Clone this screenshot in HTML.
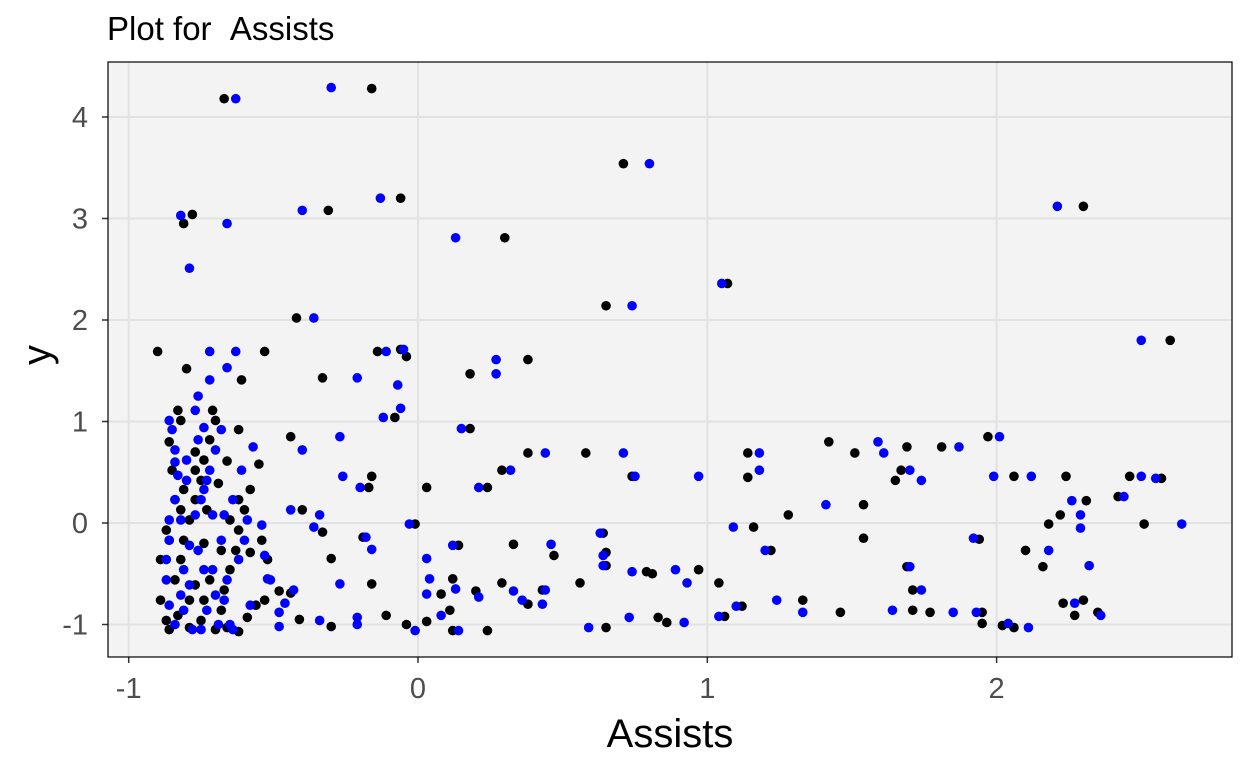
<!DOCTYPE html>
<html><head><meta charset="utf-8"><style>
body{margin:0;background:#fff;width:1248px;height:768px;overflow:hidden}
svg{font-family:"Liberation Sans",sans-serif}
</style></head><body>
<svg id="chart" width="1248" height="768" viewBox="0 0 1248 768">
<text x="107" y="40" font-size="33" fill="#000" xml:space="preserve">Plot for &#160;Assists</text>
<text x="670" y="747" font-size="40" text-anchor="middle" fill="#000">Assists</text>
<text x="0" y="0" font-size="40" text-anchor="middle" fill="#000" transform="translate(50,355) rotate(-90)">y</text>
</svg>
<script>
const xTicks=[-1,0,1,2];
const yTicks=[-1,0,1,2,3,4];
const blackX=[-0.67,-0.16,0.71,2.30,-0.78,-0.81,-0.31,-0.06,0.30,0.65,1.07,2.60,-0.42,-0.90,-0.53,-0.14,-0.06,-0.04,0.38,0.18,-0.33,-0.80,-0.61,-0.08,-0.83,-0.44,0.38,0.58,0.18,1.42,1.51,1.69,1.81,1.97,1.14,-0.86,-0.55,-0.16,0.29,0.74,1.14,1.67,1.65,2.06,2.24,2.46,2.57,0.03,0.24,-0.17,-0.40,1.28,1.54,2.31,2.42,2.22,2.51,2.18,1.16,0.64,-0.01,-0.19,-0.33,1.54,1.94,0.33,1.22,0.65,2.10,-0.30,0.47,0.14,0.65,0.79,0.81,0.97,1.69,2.16,0.56,1.04,-0.16,0.12,0.29,0.43,1.71,0.38,0.08,0.20,1.06,1.12,1.33,1.46,1.71,1.77,1.95,2.23,2.27,2.35,2.30,0.11,0.03,0.12,0.24,0.65,0.83,0.86,-0.11,-0.04,-0.30,1.95,2.02,2.06,-0.41,-0.44,-0.48,-0.53,-0.56,
-0.89,-0.87,-0.86,-0.84,-0.82,-0.81,-0.79,-0.77,-0.75,-0.74,-0.72,-0.70,-0.84,-0.81,-0.77,-0.74,-0.70,-0.68,-0.67,-0.65,-0.63,-0.62,-0.60,-0.58,-0.89,-0.86,-0.82,-0.79,-0.75,-0.72,-0.68,-0.65,-0.62,-0.71,-0.82,-0.77,-0.74,-0.66,-0.62,-0.59,-0.79,-0.54,-0.52,-0.58,-0.85,-0.87,-0.83,-0.77,-0.73,-0.69,-0.66,-0.62];
const blackY=[4.18,4.28,3.54,3.12,3.04,2.95,3.08,3.20,2.81,2.14,2.36,1.80,2.02,1.69,1.69,1.69,1.71,1.64,1.61,1.47,1.43,1.52,1.41,1.04,1.11,0.85,0.69,0.69,0.93,0.80,0.69,0.75,0.75,0.85,0.69,0.80,0.58,0.46,0.52,0.46,0.45,0.52,0.42,0.46,0.46,0.46,0.44,0.35,0.35,0.35,0.13,0.08,0.18,0.22,0.26,0.08,-0.01,-0.01,-0.04,-0.10,-0.01,-0.14,-0.09,-0.15,-0.16,-0.21,-0.27,-0.29,-0.27,-0.35,-0.32,-0.22,-0.42,-0.48,-0.50,-0.46,-0.43,-0.43,-0.59,-0.59,-0.60,-0.55,-0.59,-0.66,-0.66,-0.80,-0.70,-0.67,-0.92,-0.82,-0.76,-0.88,-0.86,-0.88,-0.88,-0.79,-0.91,-0.88,-0.76,-0.86,-0.97,-1.06,-1.06,-1.03,-0.93,-0.98,-0.91,-1.00,-1.02,-0.99,-1.01,-1.03,-0.95,-0.69,-0.67,-0.76,-0.81,
-0.76,-0.96,-1.05,-0.56,-0.36,-0.17,0.03,0.23,0.42,0.62,0.82,1.01,0.23,0.33,0.52,-0.76,-1.05,-0.86,-0.66,-0.46,-0.27,-0.07,0.13,0.33,-0.36,-0.17,0.13,-0.76,-0.96,-0.56,-0.27,0.03,0.23,1.11,1.01,0.70,-0.20,-1.03,-1.07,-0.93,-1.03,-0.17,-0.36,-0.29,0.52,-0.07,-0.91,-0.61,0.13,0.39,0.61,0.92];
const blueX=[-0.63,-0.30,0.80,2.21,-0.82,-0.79,-0.66,-0.40,-0.13,0.13,0.74,1.05,2.50,-0.36,-0.72,-0.63,-0.11,-0.05,0.27,0.27,-0.21,-0.72,-0.66,-0.12,-0.06,-0.07,-0.86,-0.27,-0.40,0.15,0.44,0.71,1.59,1.61,1.87,2.01,1.18,1.18,-0.84,-0.57,-0.26,0.32,0.75,0.97,1.70,1.74,1.99,2.12,2.50,2.55,-0.20,0.21,-0.44,-0.34,1.41,2.26,2.44,2.29,2.64,2.29,1.09,0.63,-0.03,-0.18,-0.36,1.92,0.46,1.20,2.18,-0.16,0.03,0.64,0.12,2.32,0.89,0.93,0.74,1.70,0.64,-0.27,0.13,0.04,0.21,0.36,0.44,1.74,0.43,0.03,0.33,1.04,1.10,1.24,1.33,1.64,1.85,1.93,2.27,2.36,0.08,0.14,-0.01,0.59,0.73,0.92,-0.21,-0.21,-0.34,2.04,2.11,-0.48,-0.48,-0.52,-0.43,-0.46,-0.58,
-0.87,-0.86,-0.84,-0.82,-0.81,-0.79,-0.77,-0.75,-0.74,-0.72,-0.70,-0.68,-0.83,-0.80,-0.76,-0.73,-0.69,-0.67,-0.66,-0.64,-0.62,-0.60,-0.59,-0.85,-0.86,-0.82,-0.78,-0.75,-0.71,-0.68,-0.64,-0.61,-0.77,-0.76,-0.74,-0.71,-0.65,-0.73,-0.80,-0.84,-0.86,-0.87,-0.76,-0.74,-0.70,-0.67,-0.79,-0.81,-0.84,-0.53,-0.54,-0.51];
const blueY=[4.18,4.29,3.54,3.12,3.03,2.51,2.95,3.08,3.20,2.81,2.14,2.36,1.80,2.02,1.69,1.69,1.69,1.71,1.61,1.47,1.43,1.41,1.53,1.04,1.13,1.36,1.01,0.85,0.72,0.93,0.69,0.69,0.80,0.69,0.75,0.85,0.69,0.52,0.60,0.75,0.46,0.52,0.46,0.46,0.52,0.42,0.46,0.46,0.46,0.44,0.35,0.35,0.13,0.08,0.18,0.22,0.26,0.08,-0.01,-0.05,-0.04,-0.10,-0.01,-0.14,-0.04,-0.15,-0.21,-0.27,-0.27,-0.26,-0.35,-0.32,-0.22,-0.42,-0.46,-0.59,-0.48,-0.43,-0.42,-0.60,-0.65,-0.55,-0.73,-0.76,-0.66,-0.66,-0.80,-0.70,-0.67,-0.92,-0.82,-0.76,-0.88,-0.86,-0.88,-0.88,-0.79,-0.91,-0.91,-1.06,-1.06,-1.03,-0.93,-0.98,-1.00,-0.93,-0.96,-0.99,-1.03,-1.02,-0.88,-0.55,-0.66,-0.79,-0.81,
-0.56,-0.81,-1.00,-0.71,-0.46,-0.22,0.08,0.23,0.33,0.52,0.72,0.92,0.47,0.62,0.82,-0.86,-1.00,-0.76,-0.56,-1.05,-0.36,-0.17,0.03,0.92,-0.17,0.03,-1.05,-1.05,-0.46,-0.17,0.23,0.52,1.11,1.25,0.94,0.08,-1.00,0.42,0.42,0.23,0.03,-0.36,-0.27,-0.46,-0.71,0.08,-0.61,-0.86,0.72,-0.32,-0.02,-0.56];

const NS='http://www.w3.org/2000/svg';
const svg=document.getElementById('chart');
const L=108,R=1232,T=62,B=657;
const sx=v=>418+v*289.3;
const sy=v=>523-v*101.5;
function mk(tag,attrs,parent){const e=document.createElementNS(NS,tag);for(const k in attrs)e.setAttribute(k,attrs[k]);(parent||svg).appendChild(e);return e;}
const panel=mk('rect',{x:L,y:T,width:R-L,height:B-T,fill:'#f3f3f3'});


xTicks.forEach(t=>{
  const g=mk('line',{x1:sx(t),x2:sx(t),y1:T,y2:B,stroke:'#e2e2e2','stroke-width':2});
  
  
  const tk=mk('line',{x1:sx(t),x2:sx(t),y1:B,y2:B+6,stroke:'#333','stroke-width':1.5});
  
  
  const lb=mk('text',{x:sx(t),y:698,'font-size':29,'text-anchor':'middle',fill:'#4d4d4d'});
  lb.textContent=t;
  
  
});
yTicks.forEach(t=>{
  const g=mk('line',{x1:L,x2:R,y1:sy(t),y2:sy(t),stroke:'#e2e2e2','stroke-width':2});
  
  
  const tk=mk('line',{x1:L-6,x2:L,y1:sy(t),y2:sy(t),stroke:'#333','stroke-width':1.5});
  
  
  const lb=mk('text',{x:L-20,y:sy(t)+10,'font-size':29,'text-anchor':'end',fill:'#4d4d4d'});
  lb.textContent=t;
  
  
});
blackX.forEach((v,i)=>{
  const c=mk('circle',{cx:sx(v),cy:sy(blackY[i]),r:4.8,fill:'#000'});
  
  
});
blueX.forEach((v,i)=>{
  const c=mk('circle',{cx:sx(v),cy:sy(blueY[i]),r:4.8,fill:'#0000ff'});
  
  
});
const border=mk('rect',{x:L,y:T,width:R-L,height:B-T,fill:'none',stroke:'#000','stroke-width':1.2});


</script>
</body></html>
